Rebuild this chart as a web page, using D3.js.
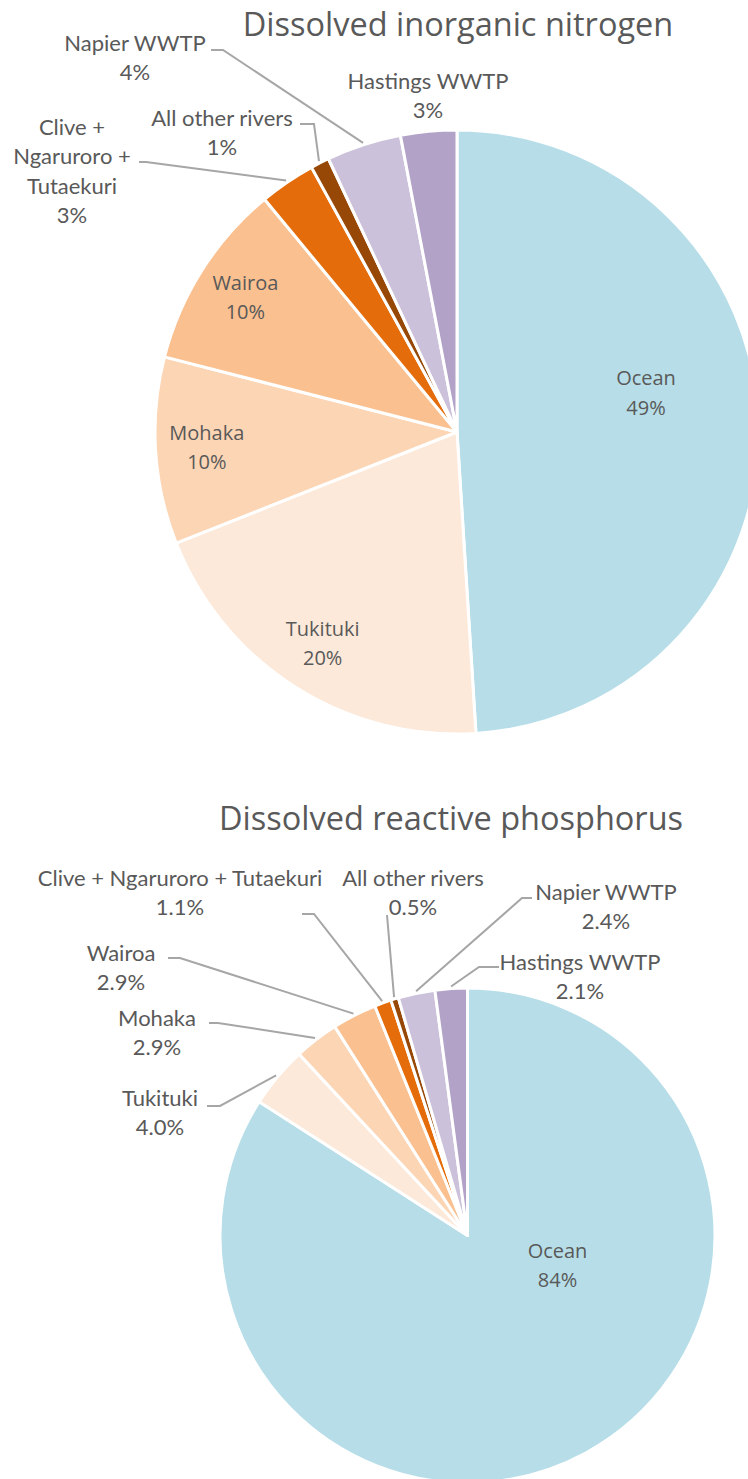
<!DOCTYPE html>
<html>
<head>
<meta charset="utf-8">
<script src="https://cdn.jsdelivr.net/npm/d3@7"></script>
<style>
  body { margin: 0; background: #fff; }
  svg { display: block; }
</style>
</head>
<body>
<div id="charts"></div>
<script>
// slice order, clockwise from 12 o'clock
const sources = ["Ocean", "Tukituki", "Mohaka", "Wairoa", "Clive + Ngaruroro + Tutaekuri", "All other rivers", "Napier WWTP", "Hastings WWTP"];
const sliceColours = ["#b7dee8", "#fde9d9", "#fcd5b5", "#fac090", "#e46c0a", "#974806", "#ccc1da", "#b2a2c7"];

// Dissolved inorganic nitrogen (%)
const dinShares = [49, 20, 10, 10, 3, 1, 4, 3];
const dinLabels = ["49%", "20%", "10%", "10%", "3%", "1%", "4%", "3%"];

// Dissolved reactive phosphorus (%)
const drpShares = [84, 4.0, 2.9, 2.9, 1.1, 0.5, 2.4, 2.1];
const drpLabels = ["84%", "4.0%", "2.9%", "2.9%", "1.1%", "0.5%", "2.4%", "2.1%"];

const width = 748;
const height = 1479;
const textColour = "#595959";
const leaderColour = "#a6a6a6";
const lineGap = 29.5;

const svg = d3.select("#charts")
    .append("svg")
    .attr("width", width)
    .attr("height", height);

const drawPie = (cfg) => {

    const g = svg.append("g")
        .attr("transform", `translate(${cfg.cx}, ${cfg.cy})`);

    const pie = d3.pie().sort(null).value(d => d);
    const slices = pie(cfg.values);

    const arc = d3.arc().innerRadius(0).outerRadius(cfg.r);

    g.selectAll("path.slice")
        .data(slices)
        .join("path")
        .attr("class", "slice")
        .attr("d", arc)
        .attr("fill", (d, i) => sliceColours[i])
        .attr("stroke", "#fff")
        .attr("stroke-width", 3)
        .attr("stroke-linejoin", "round");

    // title is centred on the chart area, not the pie
    svg.append("text")
        .text(cfg.title)
        .attr("x", cfg.titleX)
        .attr("y", cfg.titleY)
        .attr("text-anchor", "middle")
        .attr("dominant-baseline", "middle")
        .attr("font-family", "'Open Sans', sans-serif")
        .attr("font-size", 32.5)
        .attr("fill", textColour);

    // labels inside the slices
    const labelArc = d3.arc().innerRadius(cfg.r * 0.83).outerRadius(cfg.r * 0.83);
    cfg.inside.forEach(p => {
        const d = slices[p.i];
        let [x, y] = labelArc.centroid(d);
        if (p.dx !== undefined) { x = p.dx; y = p.dy; }
        const t = g.append("text")
            .attr("text-anchor", "middle")
            .attr("font-family", "'Open Sans', sans-serif")
            .attr("font-size", 20)
            .attr("fill", textColour);
        [sources[p.i], cfg.labels[p.i]].forEach((s, k) => {
            t.append("tspan")
                .attr("x", x)
                .attr("y", y - lineGap / 2 + k * lineGap)
                .attr("dy", "0.35em")
                .text(s);
        });
    });

    // labels outside, with leader lines to the slice edge
    const edgeArc = d3.arc().innerRadius(cfg.r + 2).outerRadius(cfg.r + 2);
    cfg.outside.forEach(p => {
        const d = slices[p.i];
        const lines = (p.lines || [sources[p.i]]).concat([cfg.labels[p.i]]);
        const t = svg.append("text")
            .attr("text-anchor", "middle")
            .attr("font-family", "Lato, sans-serif")
            .attr("font-size", 22)
            .attr("fill", textColour);
        lines.forEach((s, k) => {
            t.append("tspan")
                .attr("x", p.x)
                .attr("y", p.y + k * lineGap)
                .attr("dy", "0.35em")
                .text(s);
        });

        if (p.leader) {
            const [ex, ey] = edgeArc.centroid(d);
            const pts = p.leader.concat([[cfg.cx + ex, cfg.cy + ey]]);
            svg.append("path")
                .attr("d", d3.line()(pts))
                .attr("fill", "none")
                .attr("stroke", leaderColour)
                .attr("stroke-width", 2);
        }
    });
};

drawPie({
    title: "Dissolved inorganic nitrogen",
    titleX: 458, titleY: 27,
    values: dinShares,
    labels: dinLabels,
    cx: 457, cy: 432, r: 302,
    inside: [
        { i: 0, dx: 189, dy: -39 },
        { i: 1 }, { i: 2 }, { i: 3 }
    ],
    outside: [
        { i: 4, lines: ["Clive +", "Ngaruroro +", "Tutaekuri"], x: 72, y: 127, leader: [[139, 162], [146, 162]] },
        { i: 5, x: 222, y: 118, leader: [[300, 124], [314, 124]] },
        { i: 6, x: 135, y: 43, leader: [[211, 50], [223, 50]] },
        { i: 7, x: 428, y: 81 }
    ]
});

drawPie({
    title: "Dissolved reactive phosphorus",
    titleX: 451, titleY: 821,
    values: drpShares,
    labels: drpLabels,
    cx: 467.5, cy: 1235.5, r: 247.5,
    inside: [
        { i: 0, dx: 90, dy: 30 }
    ],
    outside: [
        { i: 1, x: 160, y: 1098, leader: [[207, 1106], [220, 1106]] },
        { i: 2, x: 157, y: 1018, leader: [[209, 1023], [218, 1023]] },
        { i: 3, x: 121, y: 953, leader: [[168, 958], [180, 958]] },
        { i: 4, x: 180, y: 878, leader: [[302, 914], [314, 914]] },
        { i: 5, x: 413, y: 878, leader: [[387, 915]] },
        { i: 6, x: 606, y: 892, leader: [[532, 898], [522, 898]] },
        { i: 7, x: 580, y: 962, leader: [[499, 967], [479, 967]] }
    ]
});
</script>
</body>
</html>
